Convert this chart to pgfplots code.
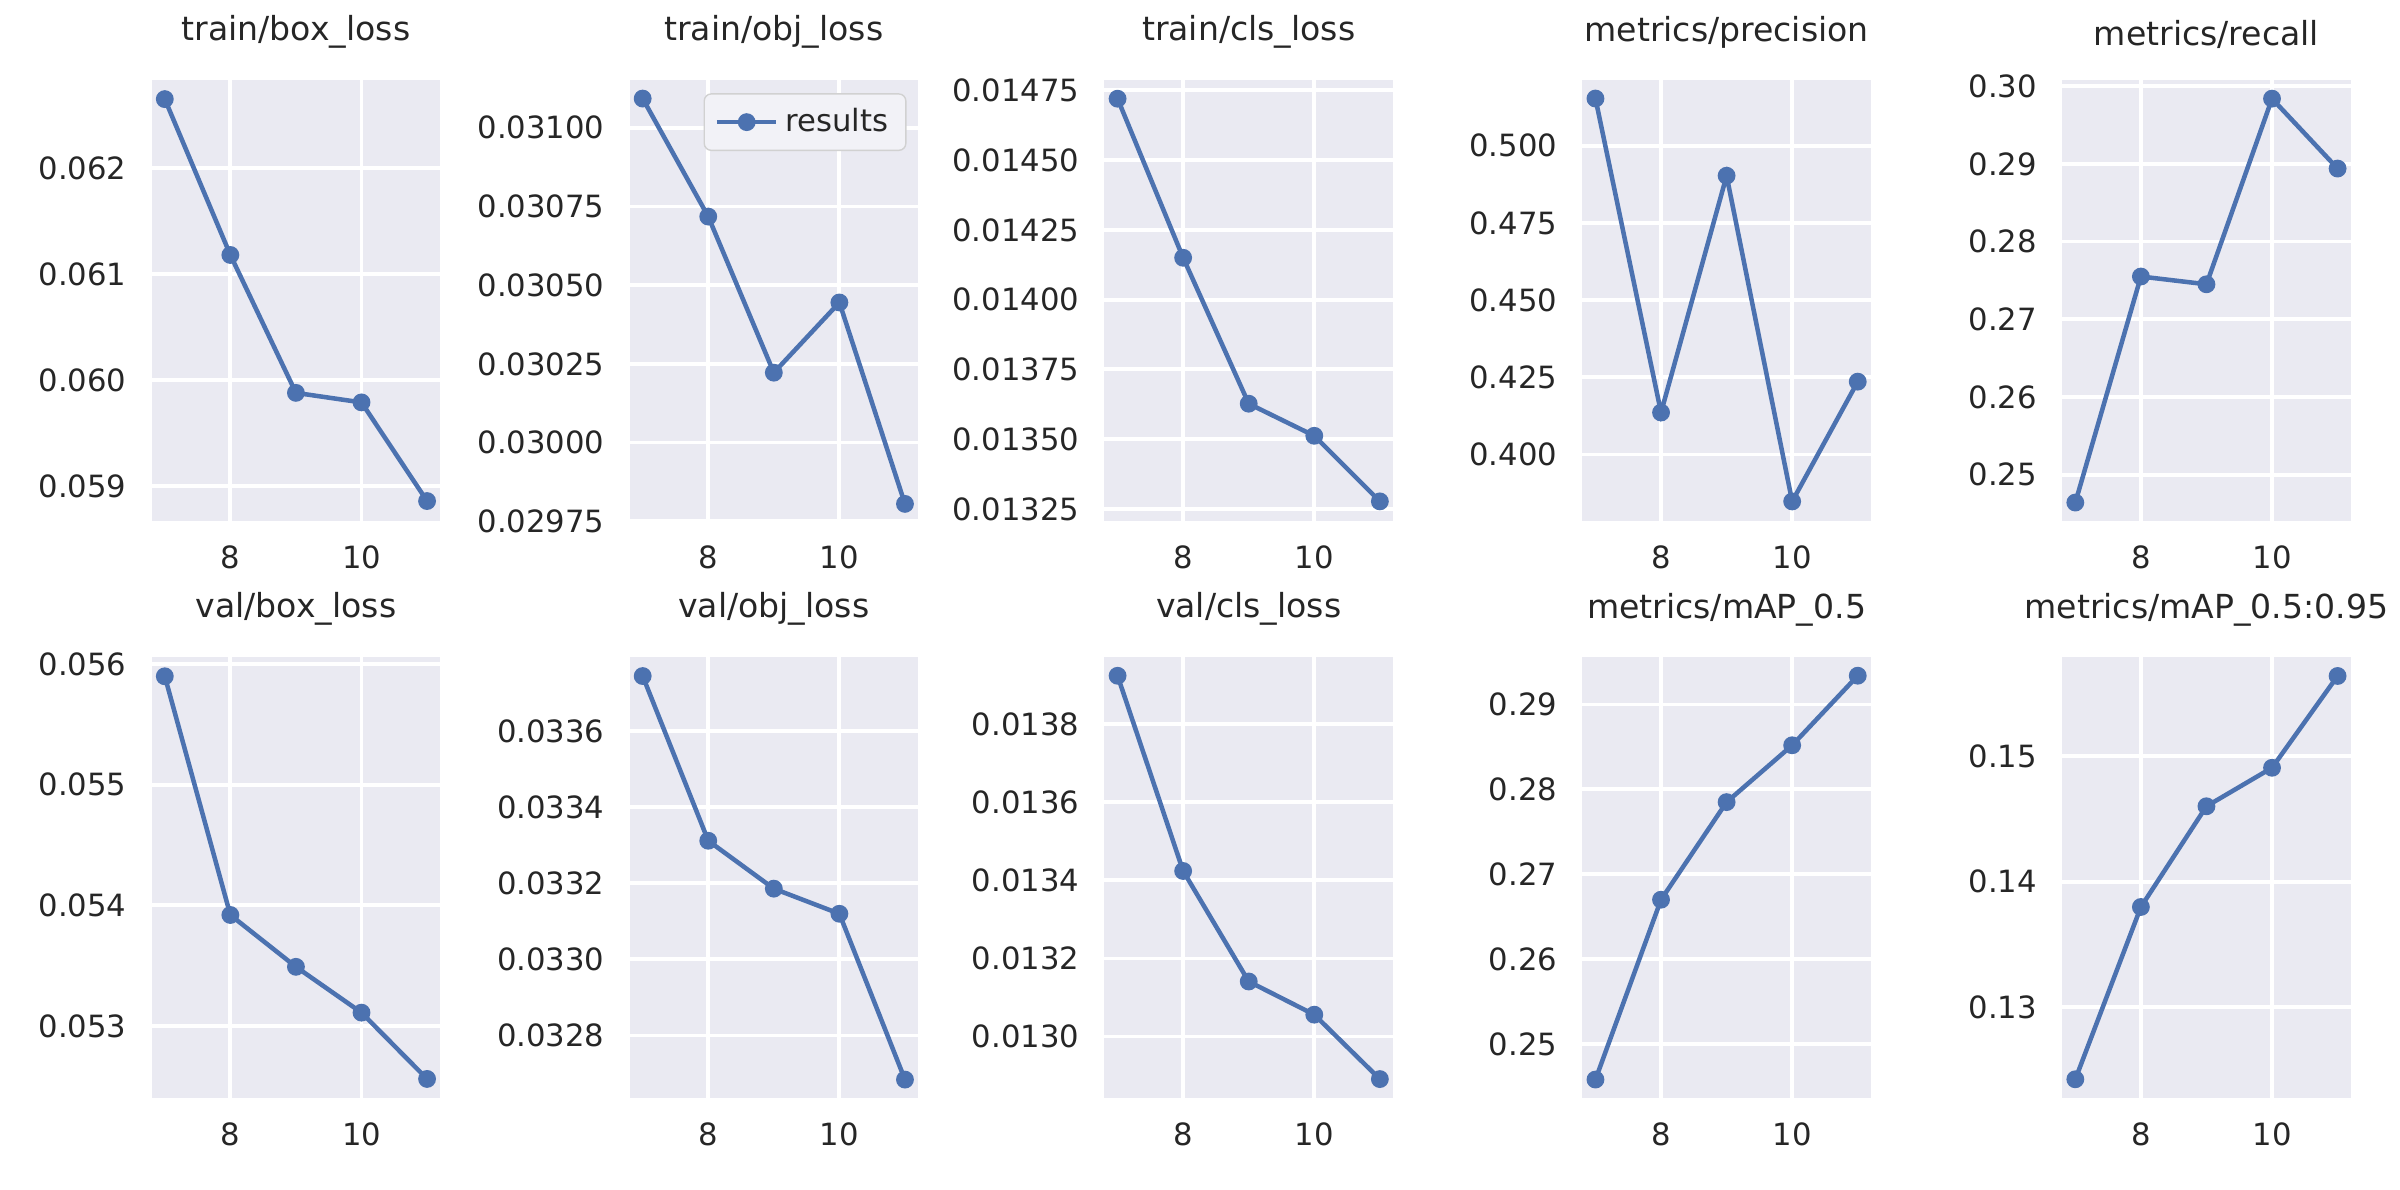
\documentclass[border=0pt]{standalone}
\usepackage{pgfplots}
\pgfplotsset{compat=1.18}
\usepackage{fontspec}
\setmainfont{DejaVu Sans}
\definecolor{sbbg}{HTML}{EAEAF2}
\definecolor{sbblue}{HTML}{4C72B0}
\definecolor{txt}{HTML}{262626}
\pgfplotsset{
  sb/.style={
    scale only axis, width=2.91cm, height=4.45cm, anchor=south west,
    axis background/.style={fill=sbbg}, axis line style={draw=none},
    major tick length=0pt, grid=major, grid style={white, line width=1.1pt},
    xmin=6.8, xmax=11.2, xtick={8,10}, xticklabels={8,10},
    scaled y ticks=false, scaled x ticks=false,
    tick label style={font=\fontsize{8.8}{10}\selectfont, text=txt},
    yticklabel style={xshift=-0.13cm}, xticklabel style={yshift=-0.12cm},
    title style={font=\fontsize{9.5}{11}\selectfont, text=txt, yshift=-0.02cm},
    clip=false,
  },
  ln/.style={sbblue, line width=1.3pt, mark=*, mark size=1.9pt, mark options={fill=sbblue, draw=sbblue}},
}
\begin{document}
\begin{tikzpicture}
\path (0,0) rectangle (24,12);
% top row
\begin{axis}[sb, at={(1.53cm,6.743cm)}, title={train/box\_loss}, ymin=0.05867, ymax=0.06283,
  ytick={0.059,0.060,0.061,0.062}, yticklabels={0.059,0.060,0.061,0.062}]
\addplot[ln] coordinates {(7,0.06265)(8,0.06118)(9,0.05988)(10,0.05979)(11,0.05886)};
\end{axis}
\begin{axis}[sb, at={(6.35cm,6.743cm)}, title={train/obj\_loss}, ymin=0.02975, ymax=0.031152,
  ytick={0.02975,0.03,0.03025,0.0305,0.03075,0.031}, yticklabels={0.02975,0.03000,0.03025,0.03050,0.03075,0.03100},
  legend style={at={(0.96,0.97)}, anchor=north east, fill=sbbg!60!white, draw=black!18, rounded corners=2pt, font=\fontsize{8.8}{10}\selectfont, text=txt},
  legend cell align=left]
\addplot[ln] coordinates {(7,0.031093)(8,0.030718)(9,0.030222)(10,0.030445)(11,0.029805)};
\addlegendentry{results}
\end{axis}
\begin{axis}[sb, at={(11.14cm,6.743cm)}, title={train/cls\_loss}, ymin=0.013206, ymax=0.014787,
  ytick={0.01325,0.0135,0.01375,0.014,0.01425,0.0145,0.01475}, yticklabels={0.01325,0.01350,0.01375,0.01400,0.01425,0.01450,0.01475}]
\addplot[ln] coordinates {(7,0.01472)(8,0.01415)(9,0.013627)(10,0.013512)(11,0.013277)};
\end{axis}
\begin{axis}[sb, at={(15.96cm,6.743cm)}, title={metrics/precision}, ymin=0.3784, ymax=0.5213,
  ytick={0.4,0.425,0.45,0.475,0.5}, yticklabels={0.400,0.425,0.450,0.475,0.500}]
\addplot[ln] coordinates {(7,0.5153)(8,0.4136)(9,0.4903)(10,0.3848)(11,0.4236)};
\end{axis}
\begin{axis}[sb, at={(20.80cm,6.743cm)}, title={metrics/recall}, ymin=0.2440, ymax=0.3008,
  ytick={0.25,0.26,0.27,0.28,0.29,0.30}, yticklabels={0.25,0.26,0.27,0.28,0.29,0.30}]
\addplot[ln] coordinates {(7,0.2464)(8,0.2755)(9,0.2745)(10,0.2984)(11,0.2894)};
\end{axis}
% bottom row
\begin{axis}[sb, at={(1.53cm,0.923cm)}, title={val/box\_loss}, ymin=0.05240, ymax=0.05606,
  ytick={0.053,0.054,0.055,0.056}, yticklabels={0.053,0.054,0.055,0.056}]
\addplot[ln] coordinates {(7,0.05590)(8,0.05392)(9,0.05349)(10,0.05311)(11,0.05256)};
\end{axis}
\begin{axis}[sb, at={(6.35cm,0.923cm)}, title={val/obj\_loss}, ymin=0.032635, ymax=0.033795,
  ytick={0.0328,0.033,0.0332,0.0334,0.0336}, yticklabels={0.0328,0.0330,0.0332,0.0334,0.0336}]
\addplot[ln] coordinates {(7,0.033745)(8,0.033312)(9,0.033186)(10,0.033120)(11,0.032684)};
\end{axis}
\begin{axis}[sb, at={(11.14cm,0.923cm)}, title={val/cls\_loss}, ymin=0.012842, ymax=0.013972,
  ytick={0.013,0.0132,0.0134,0.0136,0.0138}, yticklabels={0.0130,0.0132,0.0134,0.0136,0.0138}]
\addplot[ln] coordinates {(7,0.013924)(8,0.013424)(9,0.013141)(10,0.013056)(11,0.012891)};
\end{axis}
\begin{axis}[sb, at={(15.96cm,0.923cm)}, title={metrics/mAP\_0.5}, ymin=0.2436, ymax=0.2956,
  ytick={0.25,0.26,0.27,0.28,0.29}, yticklabels={0.25,0.26,0.27,0.28,0.29}]
\addplot[ln] coordinates {(7,0.2458)(8,0.2670)(9,0.2785)(10,0.2852)(11,0.2934)};
\end{axis}
\begin{axis}[sb, at={(20.80cm,0.923cm)}, title={metrics/mAP\_0.5:0.95}, ymin=0.12273, ymax=0.15791,
  ytick={0.13,0.14,0.15}, yticklabels={0.13,0.14,0.15}]
\addplot[ln] coordinates {(7,0.12424)(8,0.13798)(9,0.14601)(10,0.14908)(11,0.15640)};
\end{axis}
\end{tikzpicture}
\end{document}
